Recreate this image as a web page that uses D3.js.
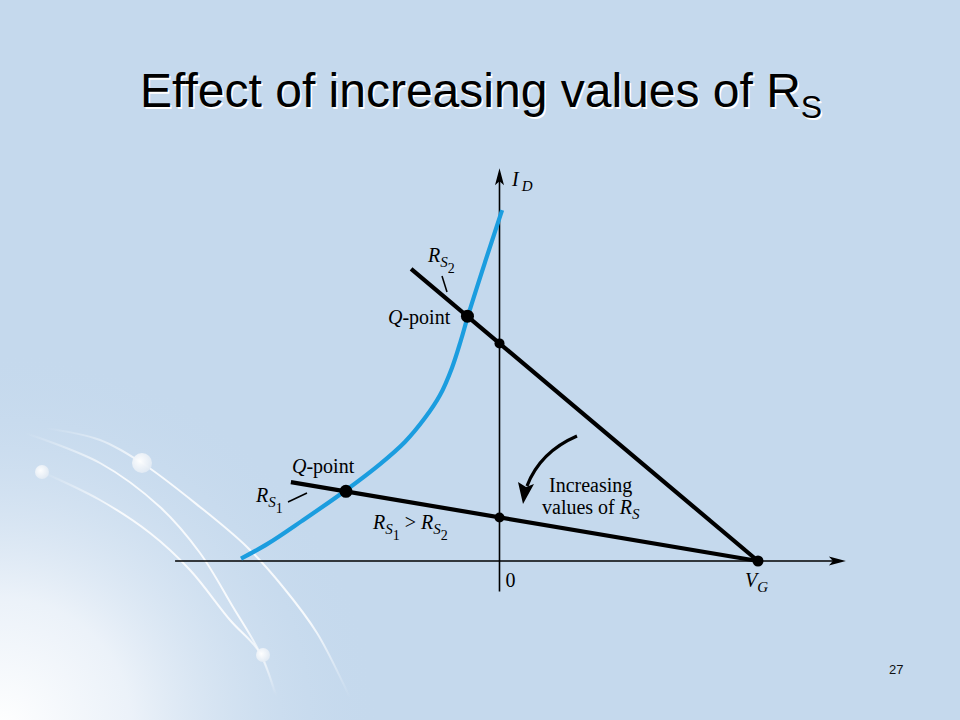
<!DOCTYPE html>
<html>
<head>
<meta charset="utf-8">
<script src="https://cdn.jsdelivr.net/npm/d3@7"></script>
<style>
  html, body { margin: 0; padding: 0; background: #c5d9ed; }
  svg { display: block; }
</style>
</head>
<body>
<svg id="chart" width="960" height="720"></svg>
<script>
// ---------- data ----------
// transfer curve I_D vs V_GS (arbitrary units: V_P = -10, V_G = +10)
const curveVGS = [-10.0, -8.96, -7.64, -5.98, -4.62, -3.66, -2.88, -2.30, -1.84, -1.49, -1.22, -0.56, 0.10];
const curveID  = [0.07, 0.51, 1.18, 2.06, 2.85, 3.50, 4.21, 4.88, 5.68, 6.50, 7.21, 8.79, 10.32];

const VG = 10;
// bias (load) lines: start point and end at V_G on the axis
const loadNames   = ["RS2", "RS1"];
const loadStartX  = [-3.42, -8.07];
const loadStartY  = [8.59, 2.32];
// Q-points (intersections with curve)
const qVGS = [-1.24, -5.94];
const qID  = [7.20, 2.05];
// intercepts with the I_D axis
const interceptID = [6.40, 1.28];

const xAxisExtent = [-12.55, 13.4];
const yAxisExtent = [-0.9, 11.55];
const tickLabels = ["0"];

// ---------- setup ----------
const svg = d3.select("#chart");
const W = 960, H = 720;
const x = d3.scaleLinear().domain([-10, 10]).range([241, 758]);
const y = d3.scaleLinear().domain([0, 10]).range([561, 221]);

// ---------- background ----------
const defs = svg.append("defs");
const rg = defs.append("radialGradient").attr("id", "glow")
  .attr("gradientUnits", "userSpaceOnUse")
  .attr("cx", 0).attr("cy", 730).attr("r", 380);
rg.append("stop").attr("offset", 0).attr("stop-color", "#ffffff").attr("stop-opacity", 1);
rg.append("stop").attr("offset", 0.35).attr("stop-color", "#f2f6fb").attr("stop-opacity", 0.85);
rg.append("stop").attr("offset", 1).attr("stop-color", "#c5d9ed").attr("stop-opacity", 0);

const dotG = defs.append("radialGradient").attr("id", "dotg")
  .attr("cx", 0.4).attr("cy", 0.4).attr("r", 0.6);
dotG.append("stop").attr("offset", 0).attr("stop-color", "#ffffff");
dotG.append("stop").attr("offset", 1).attr("stop-color", "#e3ebf4");

svg.append("rect").attr("width", W).attr("height", H).attr("fill", "#c5d9ed");
svg.append("rect").attr("width", W).attr("height", H).attr("fill", "url(#glow)");

// decorative template arcs
const arcs = [
  [[45,428],[100,440],[142,463],[200,507],[247,547],[283,587],[317,633],[343,683],[350,698]],
  [[25,433],[100,463],[160,507],[200,553],[233,607],[260,653],[277,697]],
  [[42,472],[100,500],[150,533],[190,570],[230,620],[260,653],[275,695]]
];
arcs.forEach((a, i) => {
  const g = defs.append("linearGradient").attr("id", "arcg" + i)
    .attr("gradientUnits", "userSpaceOnUse")
    .attr("x1", a[0][0]).attr("y1", a[0][1])
    .attr("x2", a[a.length - 1][0]).attr("y2", a[a.length - 1][1]);
  g.append("stop").attr("offset", 0).attr("stop-color", "#fff").attr("stop-opacity", 0);
  g.append("stop").attr("offset", 0.25).attr("stop-color", "#fff").attr("stop-opacity", 0.85);
  g.append("stop").attr("offset", 0.8).attr("stop-color", "#fff").attr("stop-opacity", 0.85);
  g.append("stop").attr("offset", 1).attr("stop-color", "#fff").attr("stop-opacity", 0);
});
const arcLine = d3.line().curve(d3.curveCatmullRom);
svg.append("g").selectAll("path").data(arcs).join("path")
  .attr("d", arcLine).attr("fill", "none")
  .attr("stroke", (d, i) => `url(#arcg${i})`).attr("stroke-width", 2);
const bgDots = [[42,472,7],[142,463,10],[263,655,7]];
svg.append("g").selectAll("circle").data(bgDots).join("circle")
  .attr("cx", d => d[0]).attr("cy", d => d[1]).attr("r", d => d[2])
  .attr("fill", "url(#dotg)").attr("opacity", 0.95);

// ---------- title ----------
const title = svg.append("g").attr("font-family", "Liberation Sans, Arial, sans-serif");
function titleText(g, dx, dy, fill) {
  const t = g.append("text").attr("x", 140 + dx).attr("y", 107 + dy)
    .attr("font-size", 48).attr("fill", fill);
  t.append("tspan").text("Effect of increasing values of R");
  t.append("tspan").attr("font-size", 32).attr("dy", 11).text("S");
}
titleText(title, 1.5, 1.5, "#ffffff");
titleText(title, 0, 0, "#000000");

// page number
svg.append("text").attr("x", 889).attr("y", 674)
  .attr("font-family", "Liberation Sans, Arial, sans-serif")
  .attr("font-size", 13).attr("fill", "#111").text("27");

// ---------- axes ----------
const axes = svg.append("g").attr("stroke", "#000").attr("stroke-width", 1.6);
axes.append("line")
  .attr("x1", x(xAxisExtent[0])).attr("x2", x(xAxisExtent[1]) - 10)
  .attr("y1", y(0)).attr("y2", y(0));
axes.append("line")
  .attr("x1", x(0)).attr("x2", x(0))
  .attr("y1", y(yAxisExtent[0])).attr("y2", y(yAxisExtent[1]) + 10);
// arrowheads
const xt = x(xAxisExtent[1]), yt = y(yAxisExtent[1]);
svg.append("path")
  .attr("d", `M${xt},${y(0)} L${xt-17},${y(0)-4.5} L${xt-13},${y(0)} L${xt-17},${y(0)+4.5} Z`)
  .attr("fill", "#000");
svg.append("path")
  .attr("d", `M${x(0)},${yt} L${x(0)-4.5},${yt+17} L${x(0)},${yt+13} L${x(0)+4.5},${yt+17} Z`)
  .attr("fill", "#000");

// ---------- transfer curve ----------
const curvePts = curveVGS.map((v, i) => [v, curveID[i]]);
svg.append("path").datum(curvePts)
  .attr("d", d3.line().x(d => x(d[0])).y(d => y(d[1])).curve(d3.curveCatmullRom.alpha(0.5)))
  .attr("fill", "none").attr("stroke", "#1b9ddf").attr("stroke-width", 4.2)
  .attr("stroke-linecap", "butt");

// ---------- load lines ----------
svg.append("g").selectAll("line").data(loadNames).join("line")
  .attr("x1", (d, i) => x(loadStartX[i])).attr("y1", (d, i) => y(loadStartY[i]))
  .attr("x2", x(VG)).attr("y2", y(0))
  .attr("stroke", "#000").attr("stroke-width", 4.2);

// dots
const dots = svg.append("g").attr("fill", "#000");
dots.selectAll("circle.q").data(qVGS).join("circle").attr("class", "q")
  .attr("cx", d => x(d)).attr("cy", (d, i) => y(qID[i])).attr("r", 6.5);
dots.selectAll("circle.i").data(interceptID).join("circle").attr("class", "i")
  .attr("cx", x(0)).attr("cy", d => y(d)).attr("r", 5);
dots.append("circle").attr("cx", x(VG)).attr("cy", y(0)).attr("r", 5.5);

// ---------- labels ----------
const lab = svg.append("g").attr("font-family", "Liberation Serif, Times New Roman, serif")
  .attr("fill", "#000").attr("font-size", 20);

function qpoint(px, py) {
  const t = lab.append("text").attr("x", px).attr("y", py);
  t.append("tspan").attr("font-style", "italic").text("Q");
  t.append("tspan").text("-point");
}
qpoint(388, 324);
qpoint(292, 473);

function rsLabel(px, py, num) {
  const t = lab.append("text").attr("x", px).attr("y", py);
  t.append("tspan").attr("font-style", "italic").text("R");
  t.append("tspan").attr("font-style", "italic").attr("font-size", 15).attr("dy", 5).text("S");
  if (num) t.append("tspan").attr("font-size", 14).attr("dy", 6).text(num);
  return t;
}
rsLabel(428, 262, "2");
rsLabel(256, 502, "1");

// leader ticks
const ticks = svg.append("g").attr("stroke", "#000").attr("stroke-width", 1.5);
ticks.append("line").attr("x1", 442).attr("y1", 276).attr("x2", 447).attr("y2", 292);
ticks.append("line").attr("x1", 288).attr("y1", 502).attr("x2", 307).attr("y2", 493);

// R_S1 > R_S2
{
  const t = lab.append("text").attr("x", 373).attr("y", 529);
  t.append("tspan").attr("font-style", "italic").text("R");
  t.append("tspan").attr("font-style", "italic").attr("font-size", 15).attr("dy", 5).text("S");
  t.append("tspan").attr("font-size", 14).attr("dy", 6).text("1");
  t.append("tspan").attr("dy", -11).text(" > ");
  t.append("tspan").attr("font-style", "italic").text("R");
  t.append("tspan").attr("font-style", "italic").attr("font-size", 15).attr("dy", 5).text("S");
  t.append("tspan").attr("font-size", 14).attr("dy", 6).text("2");
}

// Increasing values of R_S
lab.append("text").attr("x", 549).attr("y", 492).text("Increasing");
{
  const t = lab.append("text").attr("x", 542).attr("y", 514);
  t.append("tspan").text("values of ");
  t.append("tspan").attr("font-style", "italic").text("R");
  t.append("tspan").attr("font-style", "italic").attr("font-size", 15).attr("dy", 5).text("S");
}

// axis labels
lab.selectAll("text.tick").data(tickLabels).join("text").attr("class", "tick")
  .attr("x", x(0) + 6).attr("y", 587).text(d => d);
{
  const t = lab.append("text").attr("x", 745).attr("y", 587);
  t.append("tspan").attr("font-style", "italic").text("V");
  t.append("tspan").attr("font-style", "italic").attr("font-size", 15).attr("dy", 5).text("G");
}
{
  const t = lab.append("text").attr("x", 512).attr("y", 186);
  t.append("tspan").attr("font-style", "italic").text("I");
  t.append("tspan").attr("font-style", "italic").attr("font-size", 15).attr("dy", 5).attr("dx", 3).text("D");
}

// curved arrow
svg.append("path")
  .attr("d", "M577,436 Q540,452 527,486")
  .attr("fill", "none").attr("stroke", "#000").attr("stroke-width", 3.2);
svg.append("path")
  .attr("d", "M523,504 L518,482 L526,487 L534,484 Z")
  .attr("fill", "#000");
</script>
</body>
</html>
